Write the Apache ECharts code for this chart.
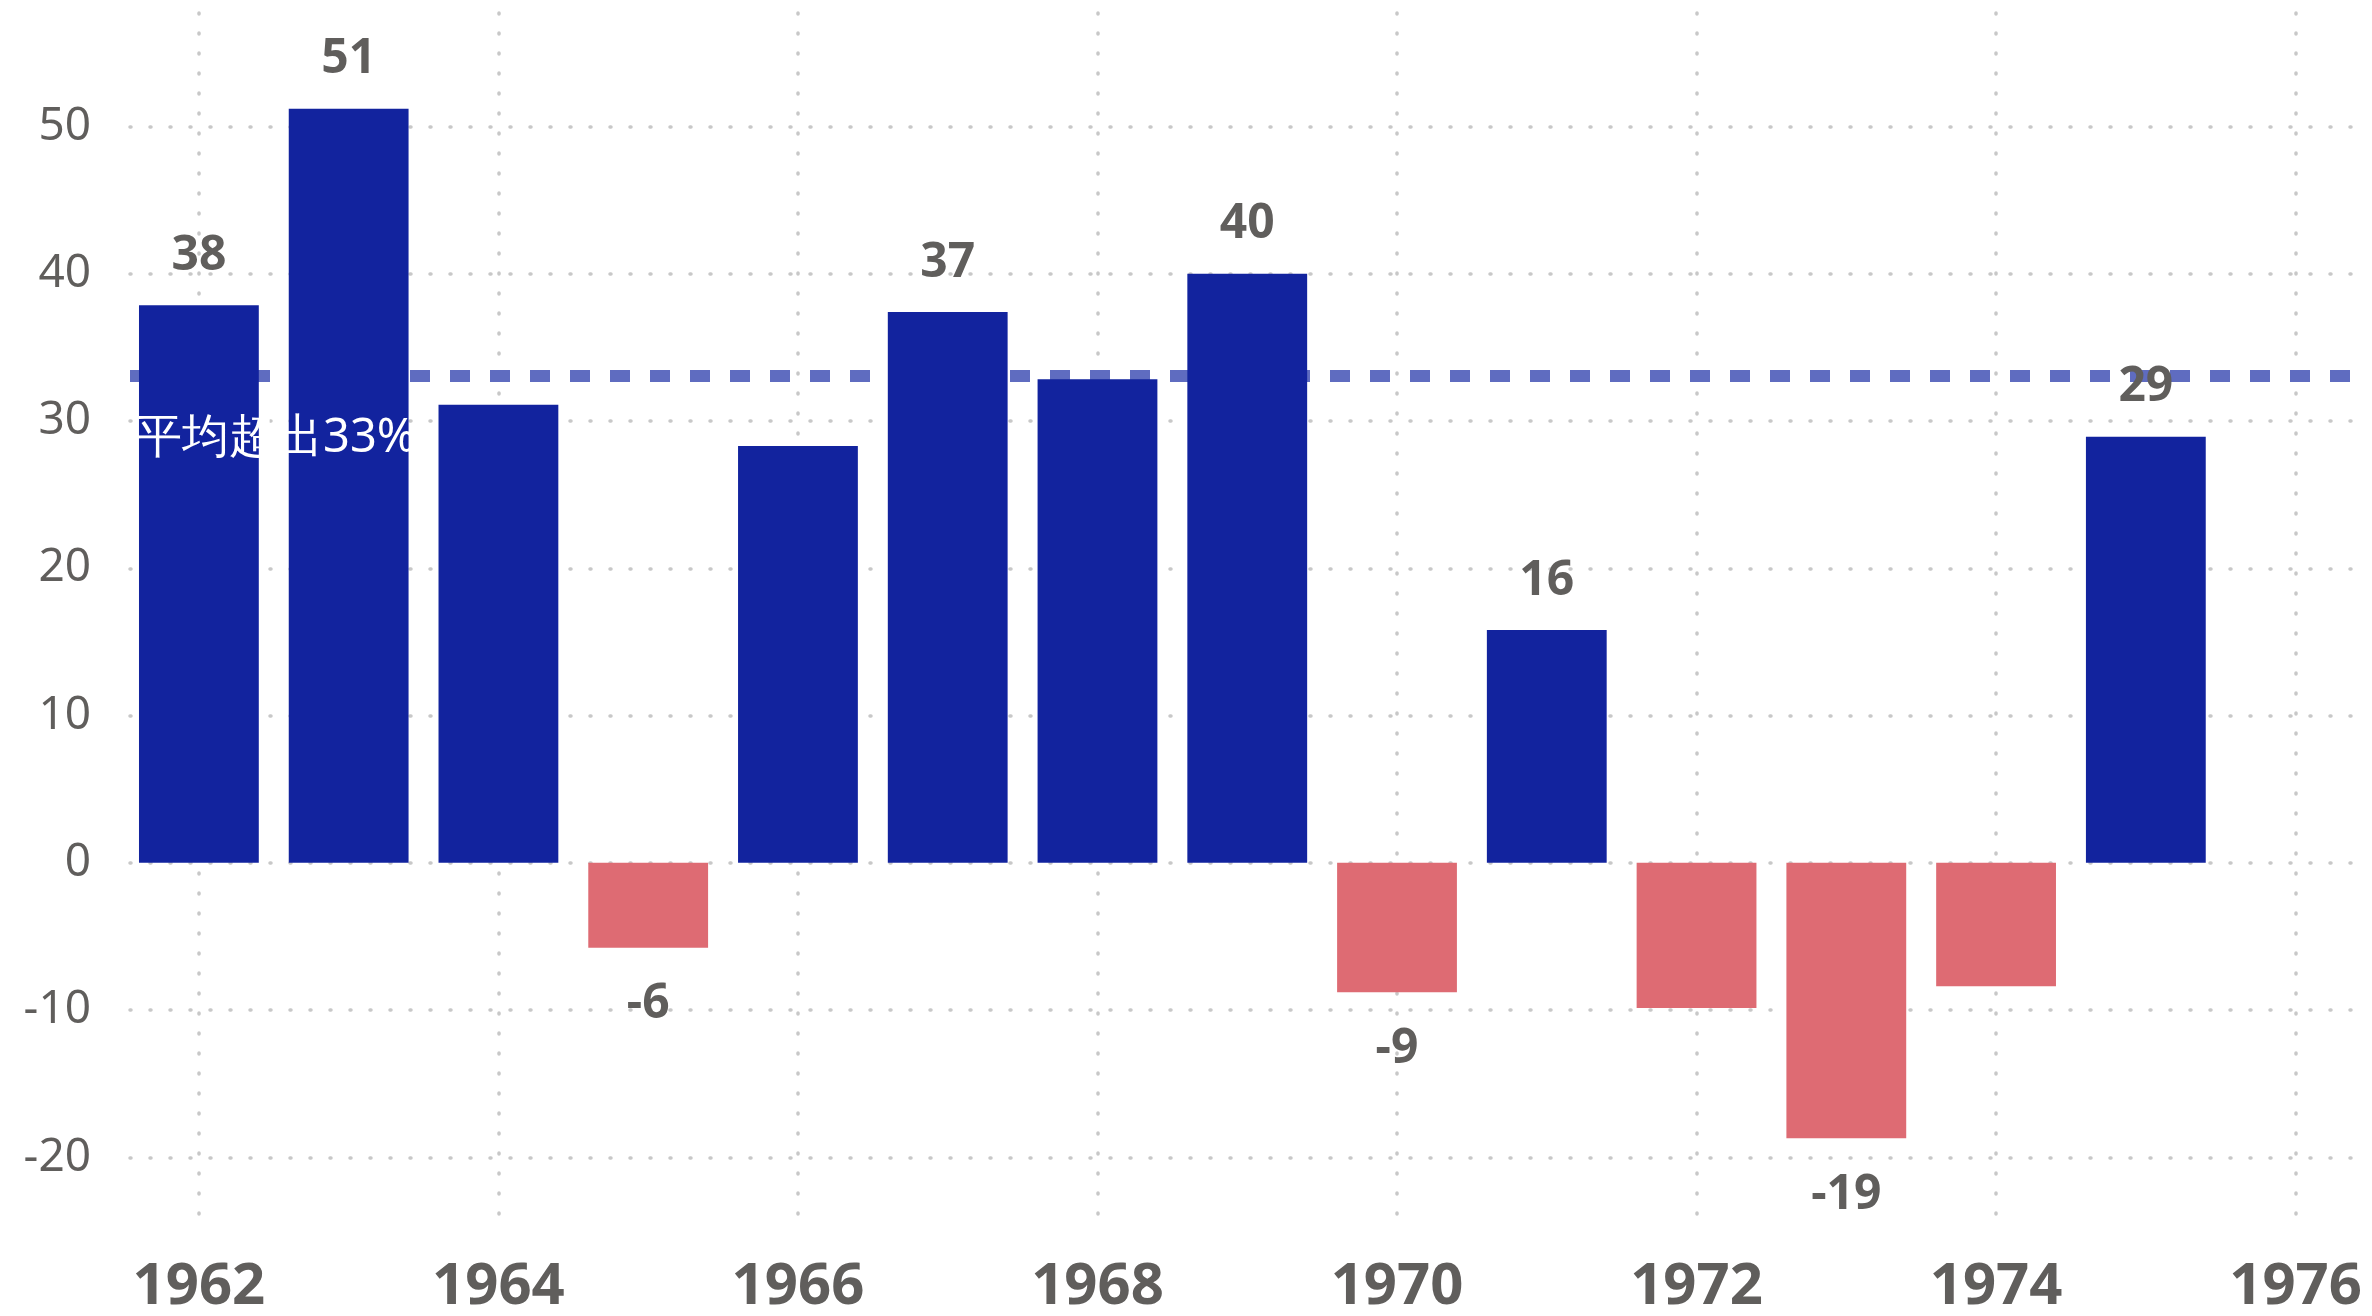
<!DOCTYPE html>
<html>
<head>
<meta charset="utf-8">
<script src="https://cdn.jsdelivr.net/npm/echarts@6/dist/echarts.min.js"></script>
<style>
html,body{margin:0;padding:0;background:#fff;}
#chart{width:2372px;height:1316px;}
</style>
</head>
<body>
<div id="chart"></div>
<script>
// ---- data ----
const years = [1962, 1963, 1964, 1965, 1966, 1967, 1968, 1969, 1970, 1971, 1972, 1973, 1974, 1975];
const values = [37.86, 51.2, 31.1, -5.77, 28.3, 37.4, 32.84, 40.0, -8.78, 15.8, -9.86, -18.7, -8.38, 28.93];
const labelledYears = [1962, 1963, 1965, 1967, 1969, 1970, 1971, 1973, 1975];
const avgValue = 33.1;
const avgLabel = '平均超出33%';
const xRange = [1961.54, 1976.43];
const yRange = [-24.25, 57.7];

// ---- style ----
const BLUE = '#12239E';
const RED = '#DE6B73';
const TXT = '#605E5C';
const FONT = '"Noto Sans", "Open Sans", sans-serif';
const gridDots = { color: '#C8C8C8', width: 3.5, type: [1, 19], cap: 'round' };

const barData = years.map((y, i) => {
  const v = values[i];
  return {
    value: [y, v],
    itemStyle: { color: v >= 0 ? BLUE : RED },
    label: {
      show: labelledYears.includes(y),
      position: v >= 0 ? 'top' : 'bottom',
      distance: v >= 0 ? 25 : 33
    }
  };
});

const chart = echarts.init(document.getElementById('chart'), null, { renderer: 'canvas' });
chart.setOption({
  animation: false,
  backgroundColor: '#ffffff',
  textStyle: { fontFamily: FONT },
  grid: { left: 130, right: 12, top: 13, bottom: 96, containLabel: false },
  xAxis: {
    type: 'value',
    min: xRange[0], max: xRange[1],
    minInterval: 2, maxInterval: 2,
    axisLine: { show: false }, axisTick: { show: false },
    splitLine: { show: true, showMinLine: false, showMaxLine: false, lineStyle: gridDots },
    axisLabel: {
      showMinLabel: false, showMaxLabel: false,
      color: TXT, fontSize: 58, fontWeight: 'bold', fontFamily: FONT, margin: 38,
      formatter: v => (Number.isInteger(v) ? String(v) : '')
    }
  },
  yAxis: {
    type: 'value',
    min: yRange[0], max: yRange[1],
    minInterval: 10, maxInterval: 10,
    axisLine: { show: false }, axisTick: { show: false },
    splitLine: { show: true, showMinLine: false, showMaxLine: false, lineStyle: gridDots },
    axisLabel: {
      showMinLabel: false, showMaxLabel: false,
      color: TXT, fontSize: 46, fontFamily: FONT, margin: 39,
      formatter: v => (Number.isInteger(v) ? String(v) : '')
    }
  },
  series: [
    {
      type: 'line', z: 1, data: [], silent: true,
      markLine: {
        z: 1,
        silent: true, symbol: 'none', animation: false,
        lineStyle: { color: '#5F6CC0', width: 12, type: [20, 20], cap: 'butt' },
        label: { show: false },
        data: [{ yAxis: avgValue }]
      }
    },
    {
      type: 'bar', z: 2,
      barWidth: '80%',
      data: barData,
      label: {
        color: TXT, fontSize: 48, fontWeight: 'bold', fontFamily: FONT,
        formatter: p => String(Math.round(p.value[1]))
      }
    },
    {
      type: 'line', z: 10, data: [], silent: true,
      markLine: {
        z: 10,
        silent: true, symbol: 'none', animation: false,
        lineStyle: { color: 'rgba(0,0,0,0)', width: 1, type: 'solid' },
        label: {
          show: true, position: 'insideStartBottom', distance: [5, 40],
          color: '#ffffff', fontSize: 47, fontFamily: FONT,
          formatter: avgLabel
        },
        data: [{ yAxis: avgValue }]
      }
    }
  ]
});
</script>
</body>
</html>
